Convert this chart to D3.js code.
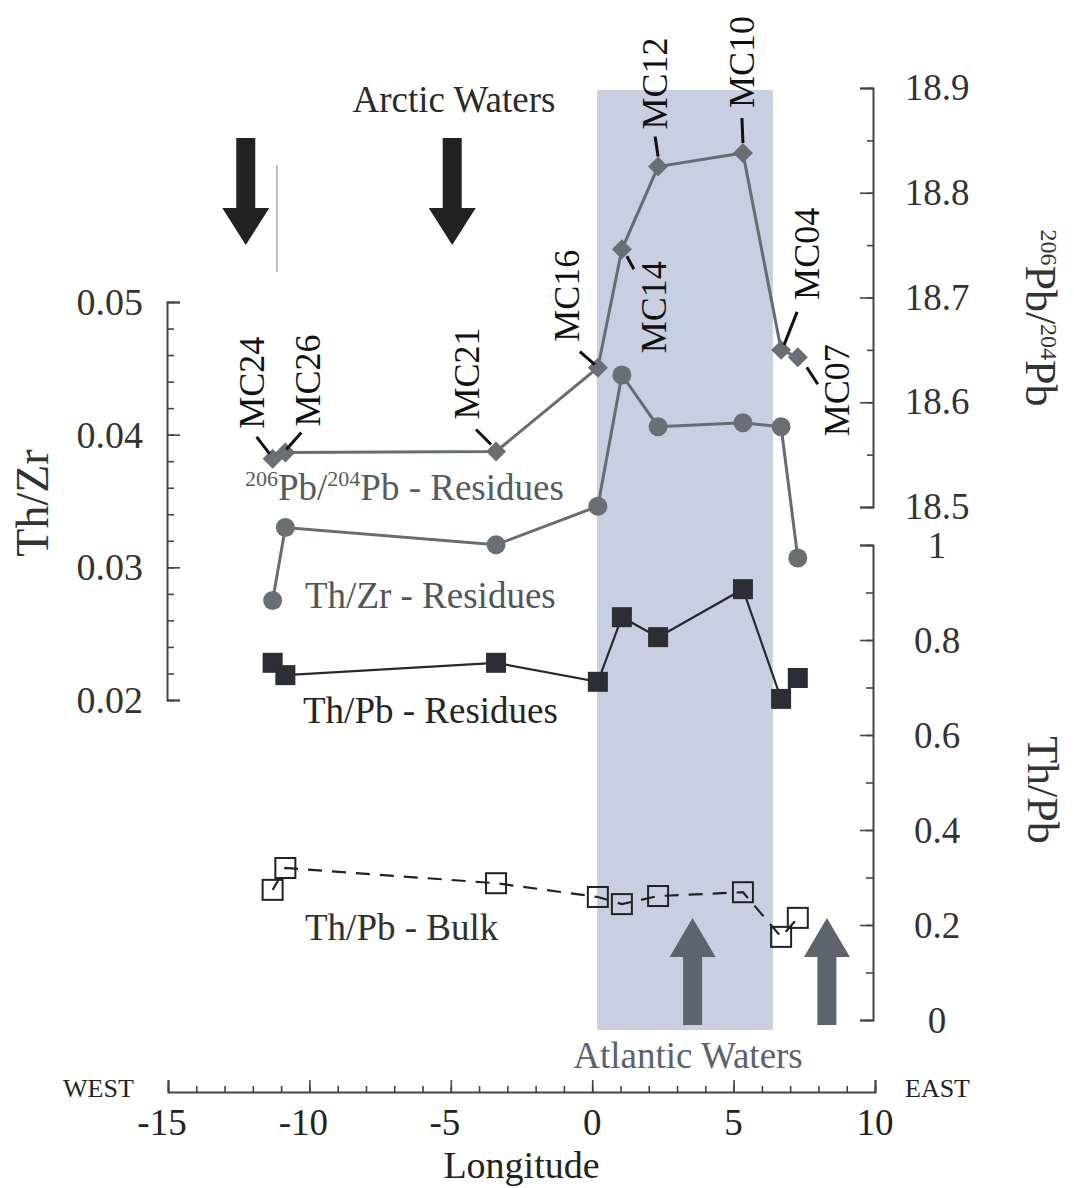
<!DOCTYPE html>
<html>
<head>
<meta charset="utf-8">
<script src="https://cdn.jsdelivr.net/npm/d3@7"></script>
<style>
  body { margin: 0; background: #fff; }
  svg text { font-family: "Liberation Serif", "Times New Roman", serif; }
</style>
</head>
<body>
<div id="chart"></div>
<script>
// Pb isotopes and Th ratios of sediment residues along a west-east transect

var stations = ["MC24", "MC26", "MC21", "MC16", "MC14", "MC12", "MC10", "MC04", "MC07"];
var longitude = [-11.3, -10.85, -3.4, 0.2, 1.05, 2.33, 5.33, 6.68, 7.27];
var pbRatio = [18.546, 18.552, 18.553, 18.633, 18.746, 18.825, 18.838, 18.650, 18.643];
var thZr = [0.0275, 0.0330, 0.0317, 0.0346, 0.0445, 0.0406, 0.0409, 0.0406, 0.0307];
var thPbResidues = [0.752, 0.726, 0.752, 0.712, 0.848, 0.806, 0.907, 0.676, 0.720];
var thPbBulk = [0.274, 0.320, 0.288, 0.259, 0.244, 0.261, 0.269, 0.175, 0.215];

var atlanticBand = [0.17, 6.39];
var arcticArrows = [-12.25, -4.95];
var atlanticArrows = [3.55, 8.3];

var xTicks = [-15, -10, -5, 0, 5, 10];
var zrTicks = [0.02, 0.03, 0.04, 0.05];
var pbTicks = [18.5, 18.6, 18.7, 18.8, 18.9];
var thPbTicks = [0, 0.2, 0.4, 0.6, 0.8, 1];

(function () {
  var width = 1074, height = 1188;

  var svg = d3.select("#chart").append("svg")
      .attr("width", width)
      .attr("height", height);

  svg.append("rect").attr("width", width).attr("height", height).attr("fill", "#fff");

  // scales
  var x = d3.scaleLinear().domain([-15, 10]).range([168, 875]);
  var yZr = d3.scaleLinear().domain([0.02, 0.05]).range([700, 302]);
  var yPb = d3.scaleLinear().domain([18.5, 18.9]).range([507, 88]);
  var yThPb = d3.scaleLinear().domain([0, 1]).range([1020, 545]);

  var rows = stations.map(function (s, i) {
    return { name: s, lon: longitude[i], pb: pbRatio[i], zr: thZr[i], res: thPbResidues[i], bulk: thPbBulk[i] };
  });

  // Atlantic waters band
  svg.append("rect")
      .attr("x", x(atlanticBand[0]))
      .attr("y", yPb(18.9) + 2)
      .attr("width", x(atlanticBand[1]) - x(atlanticBand[0]))
      .attr("height", yThPb(0) + 8 - yPb(18.9))
      .attr("fill", "#c8cfe1");

  // faint scan line
  svg.append("line")
      .attr("x1", x(-11.15)).attr("x2", x(-11.15))
      .attr("y1", 165).attr("y2", 272)
      .attr("stroke", "#9a9a9a").attr("stroke-width", 1.2);

  // arrows
  function downArrow(cx) {
    return "M" + (cx - 9.5) + ",138 L" + (cx + 9.5) + ",138 L" + (cx + 9.5) + ",208 L" + (cx + 23.5) + ",208 L" +
      cx + ",245 L" + (cx - 23.5) + ",208 L" + (cx - 9.5) + ",208 Z";
  }
  function upArrow(cx) {
    return "M" + (cx - 9.5) + ",1025 L" + (cx + 9.5) + ",1025 L" + (cx + 9.5) + ",957 L" + (cx + 23) + ",957 L" +
      cx + ",918 L" + (cx - 23) + ",957 L" + (cx - 9.5) + ",957 Z";
  }
  svg.selectAll("path.down").data(arcticArrows).enter().append("path")
      .attr("class", "down").attr("d", d => downArrow(x(d))).attr("fill", "#222");
  svg.selectAll("path.up").data(atlanticArrows).enter().append("path")
      .attr("class", "up").attr("d", d => upArrow(x(d))).attr("fill", "#5c646d");

  // axes
  function styleAxis(g) {
    g.selectAll("path.domain").attr("stroke", "#444").attr("stroke-width", 2);
    g.selectAll(".tick line").attr("stroke", "#444").attr("stroke-width", 1.6);
    g.selectAll(".tick text").remove();
  }
  function minorTicks(lo, hi, step) {
    var out = [];
    for (var v = lo; v <= hi + step / 2; v += step) out.push(+v.toFixed(6));
    return out;
  }

  // left Th/Zr axis
  svg.append("g").attr("transform", "translate(167,0)")
      .call(d3.axisRight(yZr).tickValues(minorTicks(0.02, 0.05, 0.002)).tickSize(7).tickSizeOuter(13).tickFormat(""))
      .call(styleAxis);
  svg.append("g").attr("transform", "translate(167,0)")
      .call(d3.axisRight(yZr).tickValues(zrTicks).tickSize(13).tickFormat(""))
      .call(styleAxis).select("path.domain").remove();
  svg.selectAll("text.zr").data(zrTicks).enter().append("text")
      .attr("class", "zr")
      .attr("x", 143).attr("y", d => yZr(d) + 13)
      .attr("text-anchor", "end").attr("font-size", 38).attr("fill", "#333")
      .text(d => d3.format(".2f")(d));

  // right Pb axis
  svg.append("g").attr("transform", "translate(873,0)")
      .call(d3.axisLeft(yPb).tickValues(minorTicks(18.5, 18.9, 0.05)).tickSize(6).tickSizeOuter(13).tickFormat(""))
      .call(styleAxis);
  svg.append("g").attr("transform", "translate(873,0)")
      .call(d3.axisLeft(yPb).tickValues(pbTicks).tickSize(13).tickFormat(""))
      .call(styleAxis).select("path.domain").remove();
  svg.selectAll("text.pb").data(pbTicks).enter().append("text")
      .attr("class", "pb")
      .attr("x", 937).attr("y", d => yPb(d) + 12)
      .attr("text-anchor", "middle").attr("font-size", 37).attr("fill", "#333")
      .text(d => d3.format(".1f")(d));

  // right Th/Pb axis
  svg.append("g").attr("transform", "translate(873,0)")
      .call(d3.axisLeft(yThPb).tickValues(minorTicks(0, 1, 0.1)).tickSize(7).tickSizeOuter(13).tickFormat(""))
      .call(styleAxis);
  svg.append("g").attr("transform", "translate(873,0)")
      .call(d3.axisLeft(yThPb).tickValues(thPbTicks).tickSize(13).tickFormat(""))
      .call(styleAxis).select("path.domain").remove();
  svg.selectAll("text.thpb").data(thPbTicks).enter().append("text")
      .attr("class", "thpb")
      .attr("x", 937).attr("y", d => yThPb(d) + 13)
      .attr("text-anchor", "middle").attr("font-size", 37).attr("fill", "#333")
      .text(d => d3.format("~g")(d));

  // bottom longitude axis
  svg.append("g").attr("transform", "translate(0,1092)")
      .call(d3.axisTop(x).tickValues(d3.range(-15, 11, 1)).tickSize(6).tickSizeOuter(12).tickFormat(""))
      .call(styleAxis);
  svg.append("g").attr("transform", "translate(0,1092)")
      .call(d3.axisTop(x).tickValues(xTicks).tickSize(12).tickFormat(""))
      .call(styleAxis).select("path.domain").remove();
  svg.selectAll("text.lon").data(xTicks).enter().append("text")
      .attr("class", "lon")
      .attr("x", d => x(d) - (d < 0 ? 6 : 0)).attr("y", 1135)
      .attr("text-anchor", "middle").attr("font-size", 37).attr("fill", "#222")
      .text(d => d);

  // axis titles
  svg.append("text").attr("x", x(-2.5)).attr("y", 1178)
      .attr("text-anchor", "middle").attr("font-size", 38).attr("fill", "#222").text("Longitude");
  svg.append("text").attr("x", 63).attr("y", 1097).attr("font-size", 26).attr("fill", "#222").text("WEST");
  svg.append("text").attr("x", 905).attr("y", 1097).attr("font-size", 26).attr("fill", "#222").text("EAST");
  svg.append("text").attr("transform", "translate(48,503) rotate(-90)")
      .attr("text-anchor", "middle").attr("font-size", 46).attr("fill", "#333").text("Th/Zr");
  svg.append("text").attr("transform", "translate(1028,790) rotate(90)")
      .attr("text-anchor", "middle").attr("font-size", 44).attr("fill", "#333").text("Th/Pb");
  var pbTitle = svg.append("text").attr("transform", "translate(1026,318) rotate(90)")
      .attr("text-anchor", "middle").attr("font-size", 44).attr("fill", "#333");
  pbTitle.append("tspan").attr("font-size", 24).attr("dy", -15).text("206");
  pbTitle.append("tspan").attr("dy", 15).text("Pb/");
  pbTitle.append("tspan").attr("font-size", 24).attr("dy", -15).text("204");
  pbTitle.append("tspan").attr("dy", 15).text("Pb");

  // region labels
  svg.append("text").attr("x", 454).attr("y", 112).attr("text-anchor", "middle")
      .attr("font-size", 37).attr("fill", "#2a2a2a").text("Arctic Waters");
  svg.append("text").attr("x", 688).attr("y", 1068).attr("text-anchor", "middle")
      .attr("font-size", 37).attr("fill", "#5a6272").text("Atlantic Waters");

  // series lines
  var linePb = d3.line().x(d => x(d.lon)).y(d => yPb(d.pb));
  var lineZr = d3.line().x(d => x(d.lon)).y(d => yZr(d.zr));
  var lineRes = d3.line().x(d => x(d.lon)).y(d => yThPb(d.res));
  var lineBulk = d3.line().x(d => x(d.lon)).y(d => yThPb(d.bulk));

  svg.append("path").datum(rows).attr("d", lineBulk)
      .attr("fill", "none").attr("stroke", "#222").attr("stroke-width", 2.2).attr("stroke-dasharray", "14,10");
  svg.append("path").datum(rows).attr("d", lineRes)
      .attr("fill", "none").attr("stroke", "#26292e").attr("stroke-width", 2.2);
  svg.append("path").datum(rows).attr("d", lineZr)
      .attr("fill", "none").attr("stroke", "#656d73").attr("stroke-width", 3);
  svg.append("path").datum(rows).attr("d", linePb)
      .attr("fill", "none").attr("stroke", "#656d73").attr("stroke-width", 3);

  // markers
  svg.selectAll("rect.bulk").data(rows).enter().append("rect")
      .attr("class", "bulk")
      .attr("x", d => x(d.lon) - 10).attr("y", d => yThPb(d.bulk) - 10)
      .attr("width", 20).attr("height", 20)
      .attr("fill", "none").attr("stroke", "#222").attr("stroke-width", 2);
  svg.selectAll("rect.res").data(rows).enter().append("rect")
      .attr("class", "res")
      .attr("x", d => x(d.lon) - 10).attr("y", d => yThPb(d.res) - 10)
      .attr("width", 20).attr("height", 20)
      .attr("fill", "#2b2e34");
  svg.selectAll("circle.zr").data(rows).enter().append("circle")
      .attr("class", "zr")
      .attr("cx", d => x(d.lon)).attr("cy", d => yZr(d.zr)).attr("r", 9.5)
      .attr("fill", "#687076");
  svg.selectAll("path.pb").data(rows).enter().append("path")
      .attr("class", "pb")
      .attr("d", d3.symbol().type(d3.symbolSquare).size(200))
      .attr("transform", d => "translate(" + x(d.lon) + "," + yPb(d.pb) + ") rotate(45)")
      .attr("fill", "#687076");

  // station labels with leader lines (offsets from each diamond)
  var labelOffsets = {
    MC24: { lx1: -3, ly1: -5, lx2: -16, ly2: -22, tx: -21, ty: -30, anchor: "start" },
    MC26: { lx1: 1, ly1: -3, lx2: 16, ly2: -20, tx: 23, ty: -26, anchor: "start" },
    MC21: { lx1: -5, ly1: -7, lx2: -20, ly2: -22, tx: -29, ty: -32, anchor: "start" },
    MC16: { lx1: -3, ly1: -3, lx2: -18, ly2: -16, tx: -31, ty: -26, anchor: "start" },
    MC14: { lx1: 5, ly1: 7, lx2: 12, ly2: 20, tx: 32, ty: 12, anchor: "end" },
    MC12: { lx1: 0, ly1: -10, lx2: -3, ly2: -30, tx: -3, ty: -37, anchor: "start" },
    MC10: { lx1: 0, ly1: -10, lx2: -1, ly2: -35, tx: -1, ty: -45, anchor: "start" },
    MC04: { lx1: 3, ly1: -5, lx2: 16, ly2: -38, tx: 26, ty: -50, anchor: "start" },
    MC07: { lx1: 9, ly1: 10, lx2: 20, ly2: 27, tx: 39, ty: 79, anchor: "start" }
  };
  rows.forEach(function (d) {
    var o = labelOffsets[d.name], px = x(d.lon), py = yPb(d.pb);
    svg.append("line")
        .attr("x1", px + o.lx1).attr("y1", py + o.ly1)
        .attr("x2", px + o.lx2).attr("y2", py + o.ly2)
        .attr("stroke", "#111").attr("stroke-width", 3);
    svg.append("text")
        .attr("transform", "translate(" + (px + o.tx + 12) + "," + (py + o.ty) + ") rotate(-90)")
        .attr("text-anchor", o.anchor)
        .attr("font-size", 36).attr("fill", "#111")
        .text(d.name);
  });

  // series labels
  var pbLab = svg.append("text").attr("x", 245).attr("y", 500).attr("font-size", 37).attr("fill", "#555b60");
  pbLab.append("tspan").attr("font-size", 22).attr("dy", -14).text("206");
  pbLab.append("tspan").attr("dy", 14).text("Pb/");
  pbLab.append("tspan").attr("font-size", 22).attr("dy", -14).text("204");
  pbLab.append("tspan").attr("dy", 14).text("Pb - Residues");

  svg.append("text").attr("x", 305).attr("y", 608).attr("font-size", 37).attr("fill", "#50565b").text("Th/Zr - Residues");
  svg.append("text").attr("x", 303).attr("y", 723).attr("font-size", 37).attr("fill", "#252525").text("Th/Pb - Residues");
  svg.append("text").attr("x", 305).attr("y", 940).attr("font-size", 37).attr("fill", "#303030").text("Th/Pb - Bulk");
})();
</script>
</body>
</html>
